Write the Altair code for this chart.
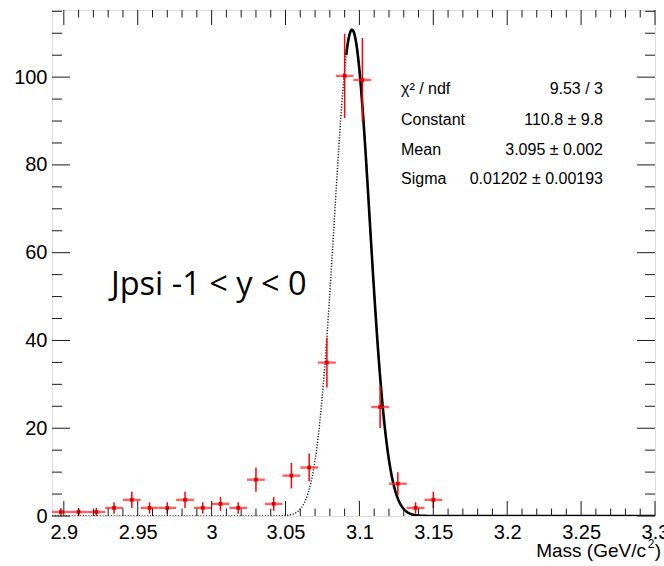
import altair as alt
import numpy as np
import pandas as pd

# Invariant-mass histogram: bin centres (GeV/c^2), weighted contents, errors
mass = [2.898, 2.910, 2.922, 2.934, 2.946, 2.958, 2.970, 2.982, 2.994, 3.006, 3.018,
        3.030, 3.042, 3.054, 3.066, 3.078, 3.090, 3.102, 3.114, 3.126, 3.138, 3.150]
counts = [0.92, 0.92, 0.92, 1.84, 3.68, 1.84, 1.84, 3.68, 1.84, 2.76, 1.84,
          8.28, 2.76, 9.20, 11.04, 34.96, 100.28, 99.36, 24.84, 7.36, 1.84, 3.68]
errors = [0.92, 0.92, 0.92, 1.30, 1.84, 1.30, 1.30, 1.84, 1.30, 1.59, 1.30,
          2.76, 1.59, 2.91, 3.19, 5.67, 9.61, 9.56, 4.78, 2.60, 1.30, 1.84]
bin_width = 0.012

# Gaussian fit result
fit_constant = 110.8
fit_mean = 3.095
fit_sigma = 0.01202
fit_start = 3.091

stat_names = ["\u03c7\u00b2 / ndf", "Constant", "Mean", "Sigma"]
stat_values = ["9.53 / 3", "110.8 \u00b1 9.8", "3.095 \u00b1 0.002", "0.01202 \u00b1 0.00193"]

x_major = [2.9, 2.95, 3.0, 3.05, 3.1, 3.15, 3.2, 3.25, 3.3]
x_minor = [2.91, 2.92, 2.93, 2.94, 2.96, 2.97, 2.98, 2.99, 3.01, 3.02, 3.03, 3.04,
           3.06, 3.07, 3.08, 3.09, 3.11, 3.12, 3.13, 3.14, 3.16, 3.17, 3.18, 3.19,
           3.21, 3.22, 3.23, 3.24, 3.26, 3.27, 3.28, 3.29]
y_major = [0, 20, 40, 60, 80, 100]
y_minor = [5, 10, 15, 25, 30, 35, 45, 50, 55, 65, 70, 75, 85, 90, 95, 105, 110, 115]

x_range = [2.892, 3.3]
y_range = [0, 115.3]

W, H = 603, 506
FONT = "Liberation Sans"

xs = alt.Scale(domain=x_range, nice=False, zero=False)
ys = alt.Scale(domain=y_range, nice=False, zero=True)

hist = pd.DataFrame({"mass": mass, "counts": counts, "err": errors})

grid = np.linspace(x_range[0], x_range[1], 1200)
gauss = fit_constant * np.exp(-0.5 * ((grid - fit_mean) / fit_sigma) ** 2)
curve = pd.DataFrame({"m": grid, "f": gauss})
curve_fit = curve[curve["m"] >= fit_start]

x_axis = alt.Axis(values=x_major, format=".2~f", ticks=False, domain=False, grid=False,
                  labelFont=FONT, labelFontSize=20, labelColor="black", labelPadding=6,
                  labelFlush=False, labelOverlap=False, title=None)
y_axis = alt.Axis(values=y_major, ticks=False, domain=False, grid=False,
                  labelFont=FONT, labelFontSize=20, labelColor="black", labelPadding=5,
                  labelFlush=False, labelOverlap=False, title=None)

dotted = alt.Chart(curve).mark_line(
    color="#222222", strokeWidth=1.5, strokeDash=[1.2, 1.6], clip=True
).encode(x=alt.X("m:Q", scale=xs, axis=x_axis), y=alt.Y("f:Q", scale=ys, axis=y_axis))

solid = alt.Chart(curve_fit).mark_line(color="black", strokeWidth=2.6, clip=True).encode(
    x=alt.X("m:Q", scale=xs), y=alt.Y("f:Q", scale=ys)
)

base = alt.Chart(hist).transform_calculate(
    lo="datum.counts - datum.err",
    hi="datum.counts + datum.err",
    left=f"datum.mass - {bin_width / 2}",
    right=f"datum.mass + {bin_width / 2}",
)

hbars = base.mark_rule(color="#ff2a2a", strokeWidth=2.4, opacity=0.75).encode(
    x=alt.X("left:Q", scale=xs), x2="right:Q", y=alt.Y("counts:Q", scale=ys)
)
vbars = base.mark_rule(color="#ff0000", strokeWidth=1.5).encode(
    x=alt.X("mass:Q", scale=xs), y=alt.Y("lo:Q", scale=ys), y2="hi:Q"
)
markers = base.mark_square(color="#e00000", size=14, opacity=1).encode(
    x=alt.X("mass:Q", scale=xs), y=alt.Y("counts:Q", scale=ys)
)


def xticks(values, length):
    d = pd.DataFrame({"v": values})
    bottom = alt.Chart(d).mark_rule(color="#1a1a1a", strokeWidth=1).encode(
        x=alt.X("v:Q", scale=xs), y=alt.value(H), y2=alt.value(H - length)
    )
    top = alt.Chart(d).mark_rule(color="#1a1a1a", strokeWidth=1).encode(
        x=alt.X("v:Q", scale=xs), y=alt.value(0), y2=alt.value(length)
    )
    return [bottom, top]


def yticks(values, length):
    d = pd.DataFrame({"v": values})
    left = alt.Chart(d).mark_rule(color="#1a1a1a", strokeWidth=1).encode(
        y=alt.Y("v:Q", scale=ys), x=alt.value(0), x2=alt.value(length)
    )
    right = alt.Chart(d).mark_rule(color="#1a1a1a", strokeWidth=1).encode(
        y=alt.Y("v:Q", scale=ys), x=alt.value(W), x2=alt.value(W - length)
    )
    return [left, right]


ticks = xticks(x_major, 15) + xticks(x_minor, 7.5) + yticks(y_major, 18) + yticks(y_minor, 10)


def text(t, x, y, size, align="left", font=FONT):
    return alt.Chart(pd.DataFrame({"t": [t]})).mark_text(
        font=font, fontSize=size, align=align, baseline="alphabetic", color="black"
    ).encode(text="t:N", x=alt.value(x), y=alt.value(y))


# Fit statistics block
stats = []
row_y = [83.5, 114.5, 145, 174]
for name, val, yy in zip(stat_names, stat_values, row_y):
    stats.append(text(name, 349, yy, 16))
    stats.append(text(val, 551, yy, 16, align="right"))

label = text("Jpsi -1 < y < 0", 59, 285, 32.5, font="Open Sans")

# x-axis title with a raised exponent
xtitle = [
    text("Mass (GeV/c", 594, 547, 19, align="right"),
    text("2", 602.5, 537.5, 12, align="right"),
    text(")", 609, 547, 19, align="right"),
]

chart = alt.layer(
    dotted, solid, hbars, vbars, markers, *ticks, *stats, label, *xtitle
).properties(
    width=W, height=H,
    autosize=alt.AutoSizeParams(type="none"),
    padding={"left": 52, "top": 10, "right": 9, "bottom": 50},
).configure_view(stroke="black", strokeWidth=1).configure(background="white")

chart.save("out.html", embed_options={"renderer": "svg", "actions": False})
